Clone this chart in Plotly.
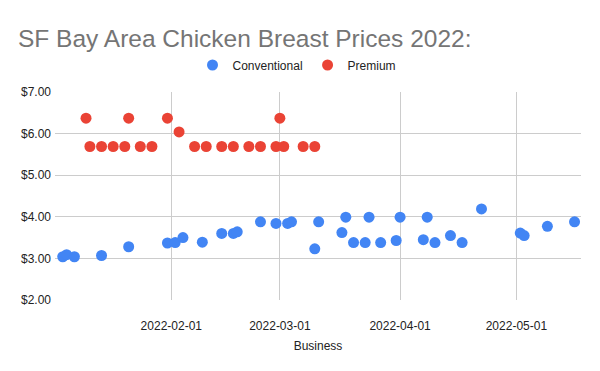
import plotly.graph_objects as go

conv_dates = ["2022-01-04", "2022-01-05", "2022-01-07", "2022-01-14", "2022-01-21", "2022-01-31",
              "2022-02-02", "2022-02-04", "2022-02-09", "2022-02-14", "2022-02-17", "2022-02-18",
              "2022-02-24", "2022-02-28", "2022-03-03", "2022-03-04", "2022-03-10", "2022-03-11",
              "2022-03-17", "2022-03-18", "2022-03-20", "2022-03-23", "2022-03-24", "2022-03-27",
              "2022-03-31", "2022-04-01", "2022-04-07", "2022-04-08", "2022-04-10", "2022-04-14",
              "2022-04-17", "2022-04-22", "2022-05-02", "2022-05-03", "2022-05-09", "2022-05-16"]
conv_prices = [3.04, 3.09, 3.04, 3.07, 3.28, 3.37,
               3.38, 3.50, 3.39, 3.60, 3.60, 3.64,
               3.88, 3.84, 3.84, 3.88, 3.23, 3.88,
               3.62, 3.99, 3.38, 3.38, 3.99, 3.38,
               3.43, 3.99, 3.45, 3.99, 3.38, 3.55,
               3.38, 4.19, 3.61, 3.55, 3.77, 3.88]

prem_dates = ["2022-01-10", "2022-01-11", "2022-01-14", "2022-01-17", "2022-01-20", "2022-01-21",
              "2022-01-24", "2022-01-27", "2022-01-31", "2022-02-03", "2022-02-07", "2022-02-10",
              "2022-02-14", "2022-02-17", "2022-02-21", "2022-02-24", "2022-02-28", "2022-03-01",
              "2022-03-02", "2022-03-07", "2022-03-10"]
prem_prices = [6.37, 5.69, 5.69, 5.69, 5.69, 6.37,
               5.69, 5.69, 6.37, 6.04, 5.69, 5.69,
               5.69, 5.69, 5.69, 5.69, 5.69, 6.37,
               5.69, 5.69, 5.69]

# page has an 8px body margin, so the figure is drawn 8px right/down
W, H, OFF = 592, 363, 8

fig = go.Figure()
fig.add_trace(go.Scatter(x=conv_dates, y=conv_prices, mode="markers", name="Conventional",
                         marker=dict(color="#4285F4", size=11)))
fig.add_trace(go.Scatter(x=prem_dates, y=prem_prices, mode="markers", name="Premium",
                         marker=dict(color="#EA4335", size=11)))

fig.update_layout(
    width=W, height=H,
    margin=dict(l=55 - OFF, r=19, t=92 - OFF, b=71, autoexpand=False),
    paper_bgcolor="white", plot_bgcolor="white",
    font=dict(family="Liberation Sans, Arial, sans-serif", size=12, color="#222222"),
    title=dict(text="SF Bay Area Chicken Breast Prices 2022:", x=(18 - OFF) / W, xanchor="left",
               xref="container", y=1 - (38 - OFF) / H, yref="container", yanchor="middle",
               pad=dict(l=0, r=0, t=0, b=0),
               font=dict(size=24.5, color="#757575")),
    legend=dict(orientation="h", x=(297 - OFF) / W, xanchor="center", xref="container",
                y=1 - (65 - OFF) / H, yref="container", yanchor="middle",
                font=dict(size=12, color="#222222"), itemwidth=30),
    showlegend=True,
)
fig.update_xaxes(
    type="date", range=["2022-01-02", "2022-05-17 16:00"], automargin=False,
    tick0="2022-02-01", dtick="M1", tickformat="%Y-%m-%d", ticklabelstandoff=17,
    showgrid=True, gridcolor="#cccccc", gridwidth=1, zeroline=False, showline=False,
    ticks="", title=dict(text="Business", font=dict(size=12, color="#222222"), standoff=9),
)
fig.update_yaxes(
    range=[2, 7], dtick=1, tick0=2, tickformat="$.2f", automargin=False,
    ticklabelstandoff=3,
    showgrid=True, gridcolor="#cccccc", gridwidth=1, zeroline=False, showline=False,
    ticks="",
)

fig.write_html("out.html")
